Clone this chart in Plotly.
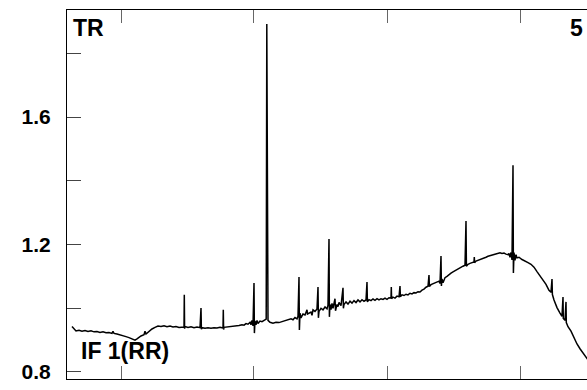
import plotly.graph_objects as go

# Spectrum samples (channel, amplitude)
spec_x = [5, 7, 9, 12, 15, 18, 21, 24, 27, 30, 33, 36, 39, 42, 45, 46, 47, 50, 53, 56, 59, 62, 65, 68, 70, 72, 74, 77, 78, 79,
          82, 85, 88, 91, 94, 97, 100, 103, 106, 109, 112, 115, 117, 117.3, 117.6, 118, 121, 124, 127, 130, 133, 134, 134.4, 135,
          138, 141, 144, 147, 150, 153, 156, 156.3, 156.6, 157, 160, 163, 166, 169, 172, 175, 177, 179, 181, 183, 184, 185, 186,
          187, 187.4, 188, 189, 190, 191, 193, 195, 197, 199.2, 199.8, 200.4, 201, 203, 206, 209, 212, 215, 218, 221, 224, 226,
          228, 230, 231, 232, 232.4, 233, 234, 236, 238, 240, 240.5, 242, 244, 245, 246, 248, 250, 251, 251.4, 252, 254, 256,
          258, 260, 261, 262, 262.4, 263, 264, 265, 266, 267, 268, 268.5, 270, 271, 272, 274, 276, 276.4, 277, 279, 281, 283,
          285, 287, 289, 291, 293, 295, 297, 299, 300, 300.4, 302, 304, 306, 308, 310, 312, 314, 316, 318, 320, 322, 324,
          324.3, 324.6, 326, 328, 330, 332, 333, 333.4, 335, 337, 339, 341, 343, 345, 347, 349, 351, 353, 355, 357, 359, 361,
          362, 362.4, 364, 366, 368, 370, 372, 373, 374, 374.4, 375, 376, 378, 380, 382, 384, 386, 388, 390, 392, 394, 396,
          398, 399, 399.4, 401, 403, 405, 407, 407.3, 407.6, 409, 411, 413, 415, 417, 419, 421, 423, 425, 427, 429, 431, 433,
          435, 437, 439, 441, 442, 443, 444, 445, 446, 446.4, 447, 448, 449, 450, 452, 455, 458, 461, 464, 467, 470, 473, 476,
          479, 482, 484, 485, 485.4, 487, 490, 493, 495, 496, 496.3, 498, 499, 499.3, 501, 504, 507, 510, 513, 516, 519, 522,
          524, 527, 530]
spec_y = [0.943, 0.935, 0.929, 0.931, 0.928, 0.930, 0.927, 0.929, 0.926, 0.927, 0.924, 0.926, 0.923, 0.924, 0.921, 0.928, 0.921,
          0.919, 0.917, 0.914, 0.911, 0.908, 0.904, 0.900, 0.904, 0.909, 0.913, 0.917, 0.928, 0.919,
          0.928, 0.935, 0.940, 0.944, 0.943, 0.945, 0.942, 0.944, 0.941, 0.943, 0.940, 0.942, 0.941, 1.042, 0.936, 0.943, 0.940,
          0.942, 0.939, 0.941, 0.939, 1.001, 0.934, 0.939,
          0.937, 0.939, 0.937, 0.939, 0.938, 0.940, 0.938, 0.995, 0.933, 0.940, 0.941, 0.943, 0.942, 0.945, 0.946, 0.948, 0.947,
          0.952, 0.950, 0.956, 0.948, 0.962, 0.945,
          1.079, 0.922, 0.960, 0.948, 0.962, 0.952, 0.960, 0.958, 0.962, 0.966, 1.892, 0.966, 0.962, 0.956, 0.953, 0.956, 0.955,
          0.958, 0.961, 0.963, 0.967, 0.964,
          0.971, 0.967, 0.975, 1.098, 0.932, 0.985, 0.970, 0.982, 0.979, 0.995, 0.982, 0.985, 0.988, 0.978, 0.995, 0.990, 0.998,
          1.067, 0.970, 0.990, 1.000, 0.995,
          1.004, 0.998, 1.010, 1.217, 0.973, 1.012, 0.996, 1.015, 1.000, 1.012, 1.030, 0.992, 1.012, 1.005, 1.018, 1.008, 1.064,
          1.000, 1.012, 1.020, 1.013, 1.022,
          1.016, 1.024, 1.018, 1.026, 1.020, 1.027, 1.022, 1.026, 1.082, 1.020, 1.027, 1.024, 1.029, 1.025, 1.030, 1.026, 1.030,
          1.028, 1.032, 1.028, 1.033, 1.032,
          1.067, 1.030, 1.035, 1.032, 1.038, 1.036, 1.070, 1.036, 1.042, 1.040, 1.044, 1.042, 1.047, 1.045, 1.049, 1.048, 1.052,
          1.051, 1.057, 1.060, 1.066, 1.069,
          1.104, 1.068, 1.074, 1.077, 1.080, 1.083, 1.085, 1.078, 1.164, 1.070, 1.092, 1.080, 1.096, 1.100, 1.106, 1.110, 1.114,
          1.118, 1.122, 1.126, 1.129, 1.132,
          1.135, 1.274, 1.132, 1.138, 1.141, 1.143, 1.145, 1.161, 1.143, 1.148, 1.150, 1.153, 1.155, 1.158, 1.160, 1.163, 1.165,
          1.167, 1.170, 1.171, 1.172, 1.174,
          1.172, 1.173, 1.170, 1.168, 1.172, 1.160, 1.175, 1.152, 1.449, 1.111, 1.175, 1.150, 1.168, 1.158, 1.160, 1.153, 1.147,
          1.143, 1.138, 1.129, 1.115, 1.101, 1.088,
          1.075, 1.056, 1.050, 1.092, 1.043, 1.026, 1.002, 0.985, 0.975, 1.035, 0.968, 0.962, 1.020, 0.955, 0.942, 0.928, 0.907,
          0.888, 0.873, 0.860, 0.845, 0.830,
          0.822, 0.812, 0.803]

x_range = [0, 520]
x_ticks = [54, 186, 320, 453]
y_range = [0.778, 1.936]
y_ticks = [0.8, 1.0, 1.2, 1.4, 1.6, 1.8]
y_tick_labels = ["0.8", "", "1.2", "", "1.6", ""]

fig = go.Figure()
fig.add_trace(go.Scatter(x=spec_x, y=spec_y, mode="lines",
                         line=dict(color="black", width=1.5), hoverinfo="skip"))

FONT = "Liberation Sans, Arial, sans-serif"
fig.update_layout(
    width=587, height=390,
    margin=dict(l=67, r=0, t=10, b=11),
    paper_bgcolor="white", plot_bgcolor="white",
    showlegend=False,
    xaxis=dict(range=x_range, tickvals=x_ticks, ticktext=["", "", "", ""],
               ticks="inside", ticklen=13, tickcolor="#666", tickwidth=1,
               showline=True, linecolor="black", linewidth=1, mirror="ticks",
               showgrid=False, zeroline=False),
    yaxis=dict(range=y_range, tickvals=y_ticks, ticktext=y_tick_labels,
               ticks="inside", ticklen=14, tickcolor="#444", tickwidth=1,
               showline=True, linecolor="black", linewidth=1,
               showgrid=False, zeroline=False, ticklabelstandoff=11,
               ticklabeloverflow="allow",
               tickfont=dict(family=FONT, size=21, color="black", weight="bold")),
    annotations=[
        dict(text="<b>TR</b>", xref="paper", yref="paper", x=0.008, y=0.950,
             xanchor="left", yanchor="middle", showarrow=False,
             font=dict(family=FONT, size=23, color="black")),
        dict(text="<b>5</b>", xref="paper", yref="paper", x=0.996, y=0.950,
             xanchor="right", yanchor="middle", showarrow=False,
             font=dict(family=FONT, size=23, color="black")),
        dict(text="<b>IF 1(RR)</b>", xref="paper", yref="paper", x=0.024, y=0.075,
             xanchor="left", yanchor="middle", showarrow=False,
             font=dict(family=FONT, size=23, color="black")),
    ],
)

fig.write_html("out.html", config={"displayModeBar": False},
               post_script="document.body.style.margin='0';document.body.style.overflow='hidden';")
